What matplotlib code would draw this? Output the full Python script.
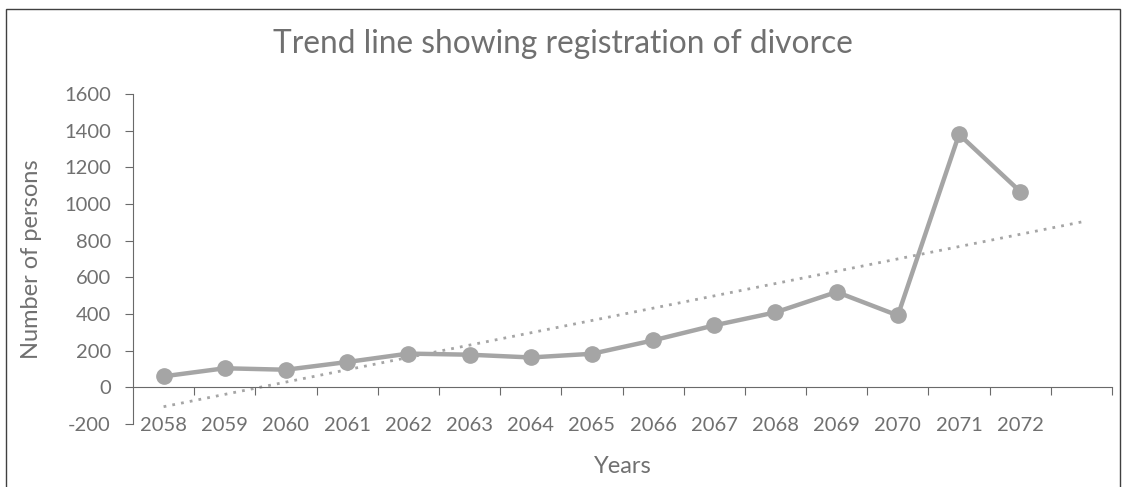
import numpy as np
import matplotlib.pyplot as plt
from matplotlib.patches import Rectangle

plt.rcParams['font.family'] = ['Lato', 'DejaVu Sans']
plt.rcParams['axes.unicode_minus'] = False

# data
years = ['2058', '2059', '2060', '2061', '2062', '2063', '2064', '2065',
         '2066', '2067', '2068', '2069', '2070', '2071', '2072']
persons = [60, 104, 96, 138, 184, 178, 163, 183, 256, 338, 409, 520, 392, 1380, 1068]

grey = '#a5a5a5'
text_col = '#707070'
axis_col = '#6a6a6a'

x = np.arange(1, len(years) + 1)

# linear trend line, forecast forward one period (like Excel)
coef = np.polyfit(x, persons, 1)
x_trend = np.arange(1, len(years) + 2)
y_trend = np.polyval(coef, x_trend)

fig = plt.figure(figsize=(11.26, 4.87), dpi=100)
ax = fig.add_axes([133 / 1126, 63 / 487, 979 / 1126, 330 / 487])

ax.plot(x_trend, y_trend, color=grey, lw=2, linestyle=(0, (1, 2.2)), zorder=2)
ax.plot(x, persons, color=grey, lw=3.2, marker='o', markersize=11,
        solid_capstyle='round', zorder=3)

ax.set_xlim(0.5, len(years) + 1.5)
ax.set_ylim(-200, 1600)
ax.set_yticks(np.arange(-200, 1601, 200))

for s in ['top', 'right']:
    ax.spines[s].set_visible(False)
ax.spines['bottom'].set_position(('data', 0))
ax.spines['bottom'].set_color(axis_col)
ax.spines['left'].set_color(axis_col)

# tick marks between categories on the zero line
ax.set_xticks(np.arange(1.5, len(years) + 2, 1.0))
ax.tick_params(axis='x', direction='out', length=6, color=axis_col, labelbottom=False)
ax.tick_params(axis='y', direction='out', length=6, color=axis_col,
               labelsize=14.5, labelcolor=text_col, pad=10)

# category labels at the low position
sec = ax.secondary_xaxis(0)
sec.set_xticks(x, years)
sec.tick_params(length=0, labelsize=14.5, labelcolor=text_col, pad=-5)
sec.spines['bottom'].set_visible(False)

ax.set_ylabel('Number of persons', fontsize=17, color=text_col)
ax.yaxis.set_label_coords(-0.093, 0.5)
ax.set_xlabel('Years', fontsize=17, color=text_col)
ax.xaxis.set_label_coords(0.5, -0.13)
ax.xaxis.label.set_verticalalignment('center')

fig.text(0.5, 1 - 44 / 487, 'Trend line showing registration of divorce',
         ha='center', va='center', fontsize=22.8, color=text_col)

fig.patches.append(Rectangle((6 / 1126, -0.02), 1114 / 1126, 1.02 - 9 / 487,
                             transform=fig.transFigure, fill=False,
                             edgecolor='#404040', lw=1))

fig.savefig('out.png', dpi=100)
